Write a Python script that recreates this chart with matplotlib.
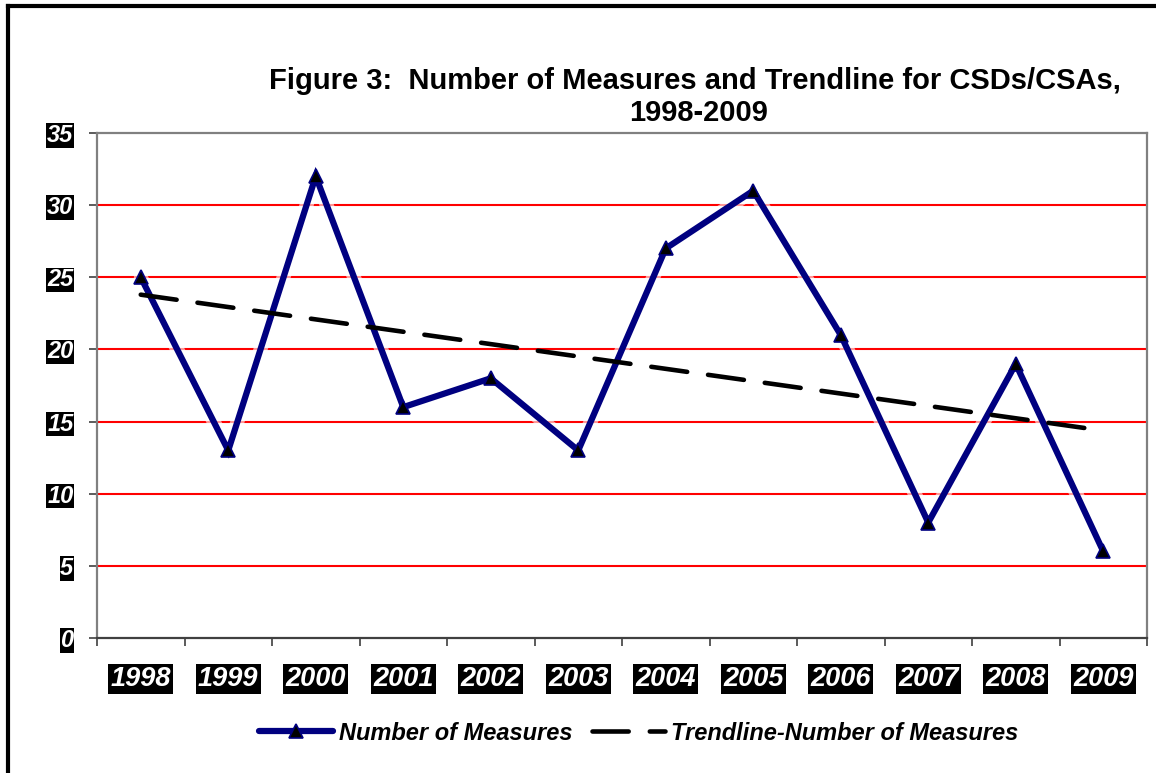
import numpy as np
import matplotlib
matplotlib.use("Agg")
import matplotlib.pyplot as plt
from matplotlib.lines import Line2D

years = ["1998", "1999", "2000", "2001", "2002", "2003",
         "2004", "2005", "2006", "2007", "2008", "2009"]
measures = [25, 13, 32, 16, 18, 13, 27, 31, 21, 8, 19, 6]
y_ticks = [0, 5, 10, 15, 20, 25, 30, 35]
title_line1 = "Figure 3:  Number of Measures and Trendline for CSDs/CSAs,"
title_line2 = "1998-2009"
series_label = "Number of Measures"
trend_label = "Trendline-Number of Measures"

plt.rcParams['font.family'] = ['Liberation Sans', 'DejaVu Sans']

W, H = 1156, 773
fig = plt.figure(figsize=(W / 100, H / 100), dpi=100)
fig.patch.set_facecolor('white')

ax = fig.add_axes([97 / W, 1 - 638 / H, (1147 - 97) / W, (638 - 133) / H])

x = np.arange(len(years))
# linear trendline (least squares fit of the series)
coef = np.polyfit(x, measures, 1)
trend = np.polyval(coef, x)

ax.set_xlim(-0.5, len(years) - 0.5)
ax.set_ylim(0, 35)

# red gridlines
for v in y_ticks[1:-1]:
    ax.axhline(v, color='#ff0000', lw=1.5, zorder=1)

# soft white halo under the series line (fades gridlines at crossings)
ax.plot(x, measures, color='white', lw=10, alpha=0.6, zorder=2,
        solid_joinstyle='round', solid_capstyle='round')
line, = ax.plot(x, measures, color='#000080', lw=4.5, marker='^', markersize=10,
                markerfacecolor='#000000', markeredgecolor='#000080', markeredgewidth=1.2,
                solid_joinstyle='miter', solid_capstyle='round', zorder=3,
                label=series_label)

tl, = ax.plot(x, trend, color='black', lw=3.3, zorder=4, label=trend_label,
              dash_capstyle='round')
tl.set_dashes([7.9, 4.6])

# spines
for s in ['left', 'right', 'top']:
    ax.spines[s].set_color('#808080')
    ax.spines[s].set_linewidth(1.6)
ax.spines['bottom'].set_color('#404040')
ax.spines['bottom'].set_linewidth(1.6)

# y ticks
ax.set_yticks(y_ticks)
ax.set_yticklabels([str(v) for v in y_ticks])
ax.tick_params(axis='y', direction='out', length=6, width=1.2, color='#404040', pad=11)
for lab in ax.get_yticklabels():
    lab.set_fontsize(17)
    lab.set_fontweight('bold')
    lab.set_fontstyle('italic')
    lab.set_color('white')
    lab.set_bbox(dict(facecolor='black', edgecolor='none', pad=0.5))

# x ticks: boundaries as major (no labels), centers as minor (labels)
ax.set_xticks(np.arange(-0.5, len(years), 1.0))
ax.set_xticklabels([])
ax.set_xticks(x, minor=True)
ax.set_xticklabels(years, minor=True)
ax.tick_params(axis='x', which='major', direction='out', length=5.5, width=1.2, color='#404040')
ax.tick_params(axis='x', which='minor', length=0, pad=20)
for lab in ax.get_xticklabels(minor=True):
    lab.set_fontsize(19.5)
    lab.set_fontweight('bold')
    lab.set_fontstyle('italic')
    lab.set_color('white')
    lab.set_bbox(dict(facecolor='black', edgecolor='none', pad=1.5))

# title
fig.text(695 / W, 1 - 89 / H, title_line1, ha='center', va='baseline',
         fontsize=21, fontweight='bold', color='black')
fig.text(699 / W, 1 - 121 / H, title_line2, ha='center', va='baseline',
         fontsize=21, fontweight='bold', color='black')

# legend
leg = fig.legend(handles=[line, tl], labels=[series_label, trend_label],
                 loc='center', bbox_to_anchor=(639 / W, 1 - 733 / H), ncol=2,
                 frameon=False, handlelength=3.1, handletextpad=0.25, columnspacing=0.85,
                 prop=dict(size=17, weight='bold', style='italic'))

# outer frame (left and top borders)
fig.add_artist(Line2D([7.5 / W, 7.5 / W], [0, 1 - 5.5 / H], transform=fig.transFigure,
                      color='black', lw=3, solid_capstyle='projecting'))
fig.add_artist(Line2D([7.5 / W, 1.0], [1 - 5.5 / H, 1 - 5.5 / H], transform=fig.transFigure,
                      color='black', lw=3, solid_capstyle='projecting'))

fig.savefig('out.png', dpi=100, facecolor='white')
